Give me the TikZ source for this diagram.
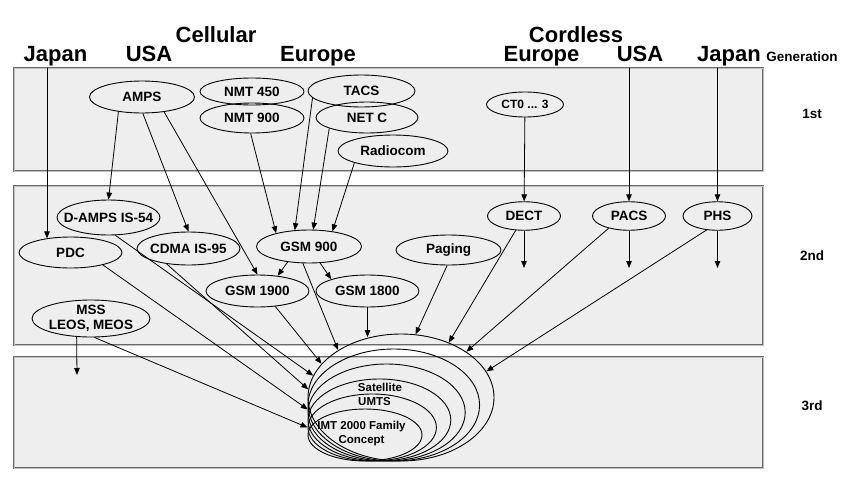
\documentclass[tikz,border=0pt]{standalone}
\usepackage{fontspec}
\setmainfont{Liberation Sans}
\usetikzlibrary{arrows.meta,shapes.geometric}
\definecolor{panelgray}{HTML}{EEEEEE}
\definecolor{panelline}{HTML}{6A6A6A}

\begin{document}
\begin{tikzpicture}[
  x=1pt,y=-1pt,
  panel/.style={draw=panelline,double=black!25,double distance=0.8pt,line width=1pt,fill=panelgray},
  sys/.style={ellipse,draw,line width=0.9pt,inner sep=0pt,minimum width=104pt,minimum height=32pt,
    font=\fontsize{13.5}{15}\selectfont\bfseries,
    execute at begin node={\hbox to 0pt\bgroup\hss},execute at end node={\hss\egroup}},
  head/.style={anchor=base,font=\fontsize{22}{24}\selectfont\bfseries},
  gen/.style={anchor=base,font=\fontsize{13.5}{15}\selectfont\bfseries},
  ring/.style={ellipse,draw,line width=0.9pt,inner sep=0pt},
  imt/.style={align=center,font=\fontsize{11.5}{13.5}\selectfont\bfseries},
  arr/.style={-{Triangle[length=7pt,width=5.5pt]},line width=0.8pt}
]
\useasboundingbox (0,0) rectangle (847,485);

% generation bands
\draw[panel] (14,68) rectangle (763,171);
\draw[panel] (14,186) rectangle (763,345);
\draw[panel] (14,357) rectangle (763,468);

% column heads
\node[head] (cellular) at (216,42) {Cellular};
\node[head] (jpcellhd) at (55.5,61.5) {Japan};
\node[head] (usacellhd) at (149,61.5) {USA};
\node[head] (eucellhd) at (318,61.5) {Europe};
\node[head] (cordless) at (576,42) {Cordless};
\node[head] (eucordhd) at (541.5,61.5) {Europe};
\node[head] (usacordhd) at (640,61.5) {USA};
\node[head] (jpcordhd) at (729,61.5) {Japan};
\node[gen] (generation) at (802,61) {Generation};
\node[gen] (first) at (812,118) {1st};
\node[gen] (second) at (812,260) {2nd};
\node[gen] (third) at (812,410) {3rd};

% 1st generation
\node[sys,minimum width=105pt] (amps) at (142,97) {AMPS};
\node[sys,minimum height=27pt] (nmt450) at (252,91.5) {NMT 450};
\node[sys,minimum height=30pt] (nmt900) at (252,118) {NMT 900};
\node[sys,minimum width=107pt] (tacs) at (361.5,91) {TACS};
\node[sys,minimum width=102pt,minimum height=31pt] (netc) at (367,117.5) {NET C};
\node[sys,minimum width=110pt] (radiocom) at (393,151) {Radiocom};
\node[sys,minimum width=77pt,minimum height=25pt,font=\fontsize{12}{14}\selectfont\bfseries] (ct0) at (525,104.5) {CT0 ... 3};

% 2nd generation
\node[sys,minimum width=103pt,minimum height=35pt] (damps) at (108.5,217.5) {D-AMPS IS-54};
\node[sys,minimum width=103pt,minimum height=31pt] (pdc) at (70.5,252.5) {PDC};
\node[sys,minimum width=103pt,minimum height=33pt] (cdma) at (188.5,248.5) {CDMA IS-95};
\node[sys,minimum width=105pt,minimum height=33pt] (gsm900) at (309,246.5) {GSM 900};
\node[sys,minimum width=103pt] (gsm1900) at (257.5,291) {GSM 1900};
\node[sys,minimum width=103pt] (gsm1800) at (367.5,291) {GSM 1800};
\node[sys,minimum width=118pt,minimum height=37pt,inner ysep=-3pt] (mss) at (91,318.5) {\begin{tabular}{@{}c@{}}MSS\\LEOS, MEOS\end{tabular}};
\node[sys,minimum width=105pt,minimum height=30pt] (paging) at (448.5,250) {Paging};
\node[sys,minimum width=73pt,minimum height=28.5pt] (dect) at (524,216) {DECT};
\node[sys,minimum width=73pt,minimum height=28.5pt] (pacs) at (629,216) {PACS};
\node[sys,minimum width=69pt,minimum height=28.5pt] (phs) at (717.5,216) {PHS};

% 3rd generation
\foreach \i in {0,...,5}{
  \pgfmathsetmacro{\rw}{186-14.4*\i}
  \pgfmathsetmacro{\rh}{127-15*\i}
  \node[ring,minimum width=\rw pt,minimum height=\rh pt] (ring\i) at ({308+\rw/2},{461-\rh/2}) {};
}
\node[imt] (satellite) at (380,387) {Satellite};
\node[imt] (umts) at (374.5,402) {UMTS};
\node[imt] (imtfamily) at (361.5,433.5) {IMT 2000 Family\\Concept};

\coordinate (jpcell) at (47,68);
\coordinate (usacord) at (629,68);
\coordinate (jpcord) at (717.5,68);
\coordinate (mssout) at (77,375);
\coordinate (dectout) at (524,268);
\coordinate (pacsout) at (629,268);
\coordinate (phsout) at (717.5,268);

\draw[arr] (jpcell) -- (jpcell |- pdc.150);
\draw[arr] (amps.212) -- (damps.north);
\draw[arr] (amps.273) -- (cdma.north);
\draw[arr] (amps.326) -- (gsm1900.north);
\draw[arr] (nmt900.265) -- (gsm900.158);
\draw[arr] (tacs.188) -- (gsm900.131);
\draw[arr] (netc.196) -- (gsm900.76);
\draw[arr] (radiocom.197) -- (gsm900.33);
\draw[arr] (ct0) -- (dect);
\draw[arr] (usacord) -- (pacs);
\draw[arr] (jpcord) -- (phs);

\draw[arr] (gsm900.216) -- (gsm1900.37);
\draw[arr] (gsm900.304) -- (gsm1800.162);
\draw[arr] (gsm900.250) -- (ring0.143);
\draw[arr] (gsm1900.319) -- (ring0.157);
\draw[arr] (gsm1800.south) -- (gsm1800.south |- ring0.117);
\draw[arr] (damps.291) -- (ring0.166);
\draw[arr] (cdma.215) -- (ring0.175);
\draw[arr] (pdc.339) -- (ring1.183);
\draw[arr] (mss.280) -- (ring4.west);
\draw[arr] (mss.232) -- (mssout);
\draw[arr] (paging.265) -- (ring0.77);
\draw[arr] (dect.240) -- (ring0.49);
\draw[arr] (pacs.211) -- (ring0.35);
\draw[arr] (phs.232) -- (ring0.17);
\draw[arr] (dect) -- (dectout);
\draw[arr] (pacs) -- (pacsout);
\draw[arr] (phs) -- (phsout);
\end{tikzpicture}
\end{document}
